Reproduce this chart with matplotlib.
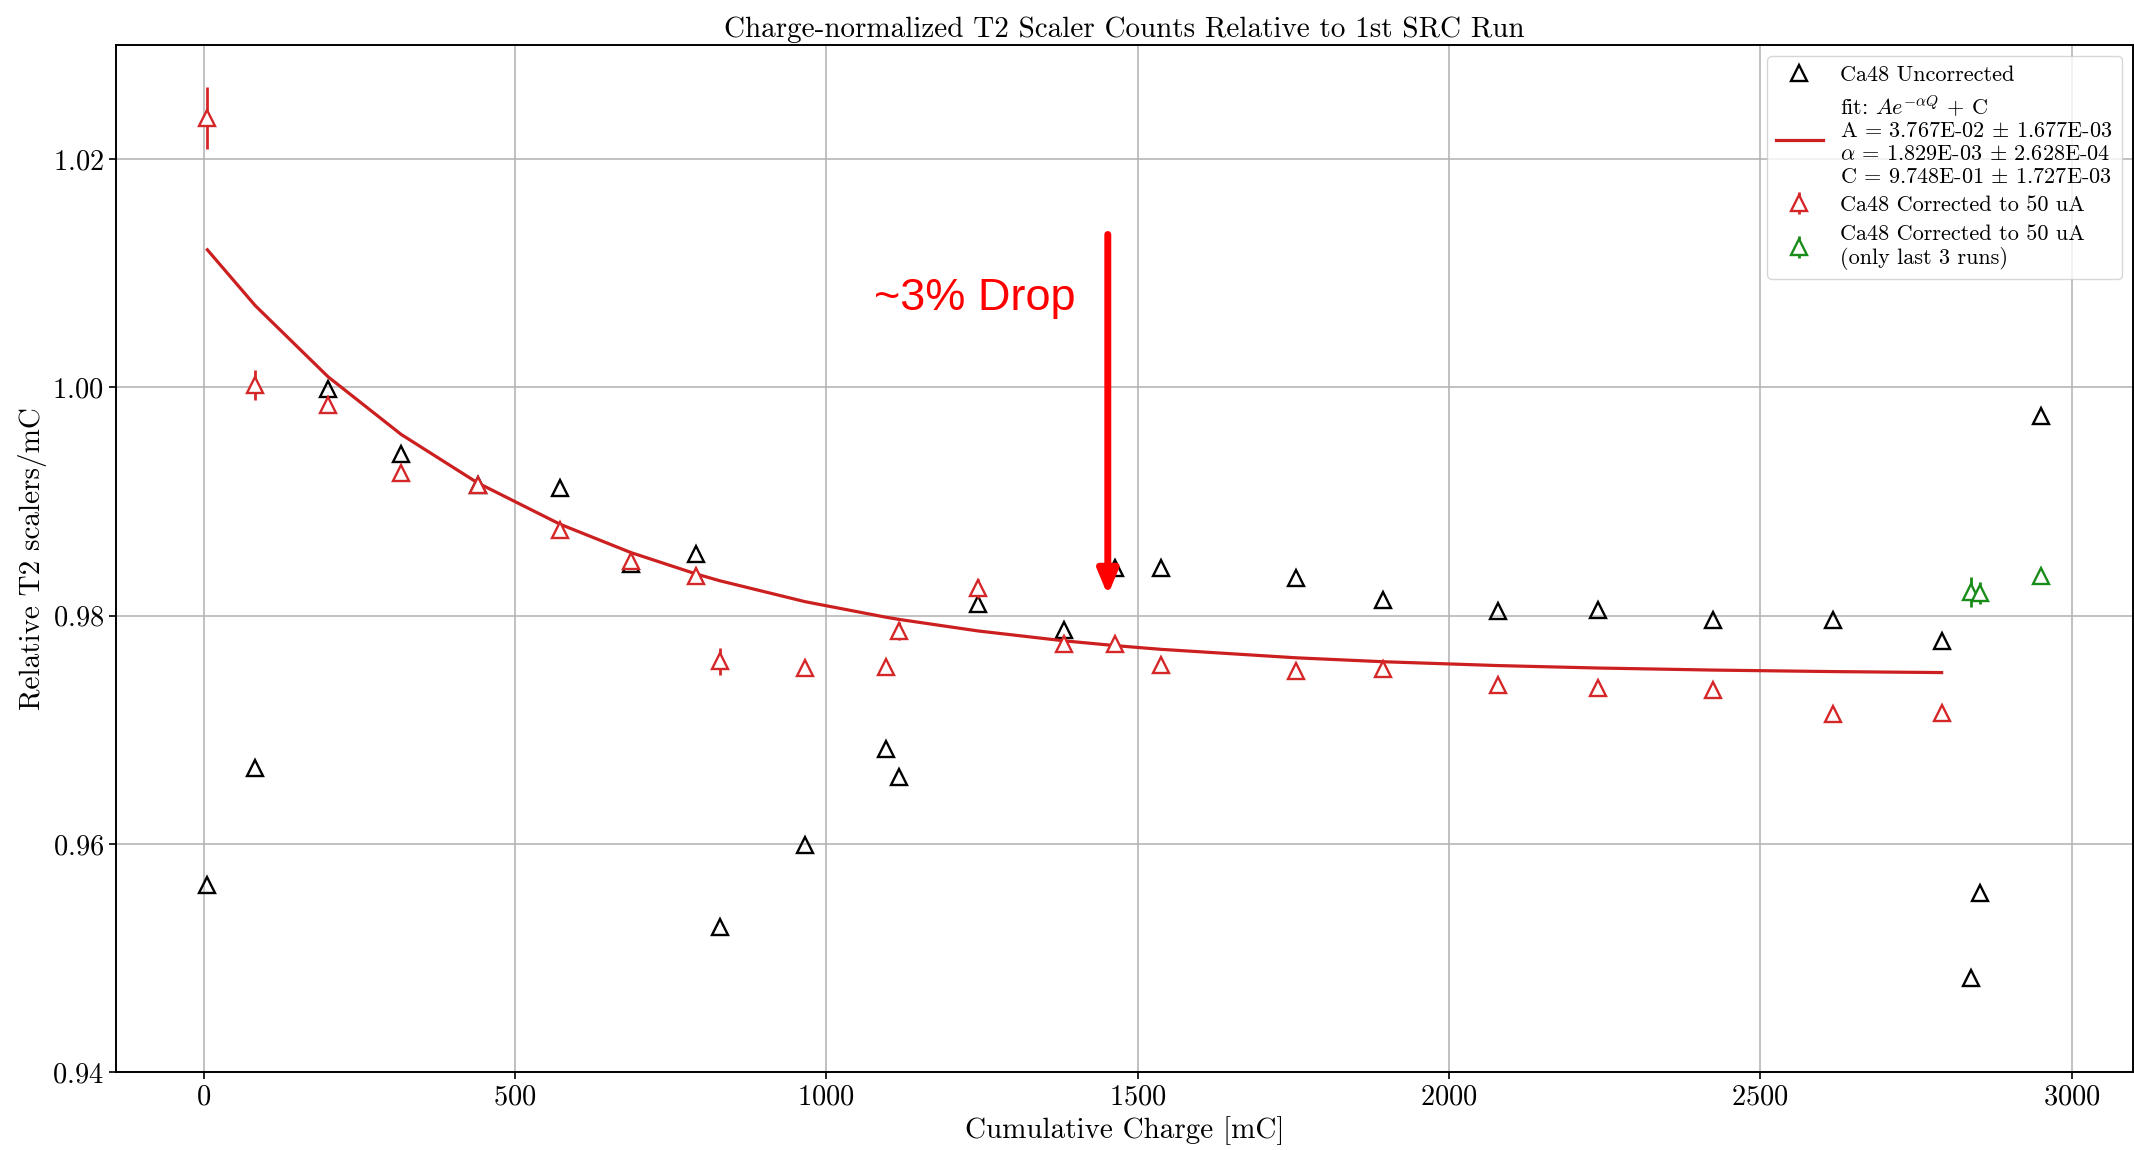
import numpy as np
import matplotlib
matplotlib.use("Agg")
import matplotlib.pyplot as plt

plt.rcParams["font.family"] = ["cmr10"]
plt.rcParams["mathtext.fontset"] = "cm"
plt.rcParams["axes.formatter.use_mathtext"] = True

# Cumulative charge of each run [mC]
charge = [6, 83, 200, 317, 440, 573, 686, 790, 829, 966, 1096, 1117, 1244,
          1382, 1463, 1537, 1755, 1894, 2079, 2239, 2424, 2616, 2791]
charge_last = [2839, 2853, 2951]

# Relative T2 scalers/mC, uncorrected
uncorrected = [0.9564, 0.9667, 0.9999, 0.9942, 0.9915, 0.9912, 0.9845, 0.9854,
               0.9527, 0.9599, 0.9683, 0.9659, 0.9810, 0.9788, 0.9842, 0.9842,
               0.9833, 0.9814, 0.9804, 0.9805, 0.9796, 0.9796, 0.9778]
uncorrected_last = [0.9483, 0.9557, 0.9975]

# Corrected to 50 uA
corrected = [1.0236, 1.0002, 0.9985, 0.9925, 0.9915, 0.9875, 0.9848, 0.9835,
             0.9760, 0.9754, 0.9755, 0.9787, 0.9824, 0.9775, 0.9775, 0.9757,
             0.9752, 0.9753, 0.9739, 0.9737, 0.9735, 0.9714, 0.9715]
corrected_err = [0.0027, 0.0013, 0.0006, 0.0006, 0.0005, 0.0005, 0.0005, 0.0005,
                 0.0012, 0.0006, 0.0006, 0.0008, 0.0008, 0.0005, 0.0005, 0.0005,
                 0.0006, 0.0006, 0.0006, 0.0006, 0.0006, 0.0006, 0.0006]

# Corrected to 50 uA, last 3 runs only
charge_green = [2839, 2852, 2951]
corrected_last = [0.9821, 0.9820, 0.9835]
corrected_last_err = [0.0013, 0.0010, 0.0005]

# Exponential fit parameters
fit_A, fit_A_err = 3.767e-02, 1.677e-03
fit_alpha, fit_alpha_err = 1.829e-03, 2.628e-04
fit_C, fit_C_err = 9.748e-01, 1.727e-03

RED = "tab:red"
GREEN = "#1a8c1a"

fig = plt.figure(figsize=(21.34, 11.5), dpi=100)
ax = fig.add_axes([0.0542, 0.0674, 0.9453, 0.8935])

h_unc, = ax.plot(charge + charge_last, uncorrected + uncorrected_last,
                 linestyle="none", marker="^", ms=12, mfc="none",
                 mec="black", mew=1.7)

q = np.array(charge, dtype=float)
fit_curve = fit_A * np.exp(-fit_alpha * q) + fit_C
h_fit, = ax.plot(q, fit_curve, color="#cc1f1f", lw=2.3)

h_red = ax.errorbar(charge, corrected, yerr=corrected_err, fmt="^", ms=12,
                    mfc="white", mec=RED, mew=1.7, ecolor=RED, elinewidth=2)
h_grn = ax.errorbar(charge_green, corrected_last, yerr=corrected_last_err,
                    fmt="^", ms=12, mfc="white", mec=GREEN, mew=1.7,
                    ecolor=GREEN, elinewidth=2)

ax.set_ylim(0.94, 1.03)
ax.set_yticks([0.94, 0.96, 0.98, 1.00, 1.02])
ax.set_xticks([0, 500, 1000, 1500, 2000, 2500, 3000])
ax.grid(True, color="#b0b0b0", lw=1.1)
ax.set_axisbelow(True)
for s in ax.spines.values():
    s.set_linewidth(1.4)
ax.tick_params(labelsize=20.5, width=1.2, length=5)

ax.set_title("Charge-normalized T2 Scaler Counts Relative to 1st SRC Run",
             fontsize=21)
ax.set_xlabel("Cumulative Charge [mC]", fontsize=21)
ax.set_ylabel("Relative T2 scalers/mC", fontsize=21)

fit_label = ("fit: $Ae^{-\\alpha Q}$ + C\n"
             f"A = {fit_A:.3E} $\\pm$ {fit_A_err:.3E}\n"
             f"$\\alpha$ = {fit_alpha:.3E} $\\pm$ {fit_alpha_err:.3E}\n"
             f"C = {fit_C:.3E} $\\pm$ {fit_C_err:.3E}")

ax.legend([h_unc, h_fit, h_red, h_grn],
          ["Ca48 Uncorrected", fit_label, "Ca48 Corrected to 50 uA",
           "Ca48 Corrected to 50 uA\n(only last 3 runs)"],
          loc="upper right", fontsize=16, handlelength=2.1, labelspacing=0.4)

# Annotation of the drop
ax.annotate("", xy=(1452, 0.9818), xytext=(1452, 1.0134),
            arrowprops=dict(arrowstyle="-|>,head_length=1.2,head_width=0.5",
                            color="#ff0000", lw=5, shrinkA=0, shrinkB=0,
                            mutation_scale=12))
ax.text(1077, 1.0068, "~3% Drop", color="#ff0000", fontsize=32.5,
        family=["Liberation Sans"], va="baseline", ha="left")

fig.savefig("out.png", dpi=100)
